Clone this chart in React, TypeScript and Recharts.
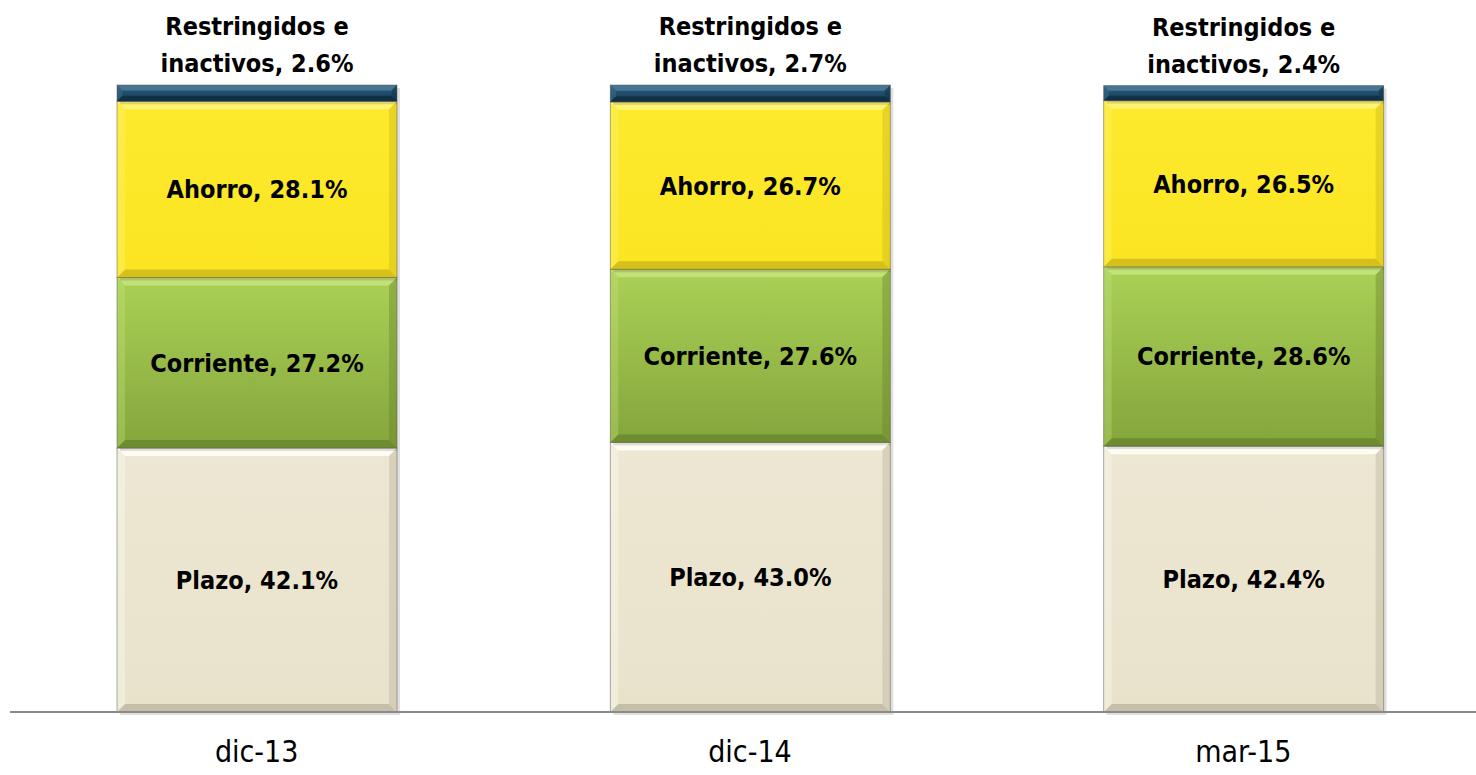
import { BarChart, Bar, XAxis, YAxis, LabelList } from "recharts";

const categories = ["dic-13", "dic-14", "mar-15"];
const plazo = [42.1, 43.0, 42.4];
const corriente = [27.2, 27.6, 28.6];
const ahorro = [28.1, 26.7, 26.5];
const restringidos = [2.6, 2.7, 2.4];

const chartData = categories.map((cat, i) => ({
  cat,
  plazo: plazo[i],
  corriente: corriente[i],
  ahorro: ahorro[i],
  restringidos: restringidos[i],
}));

const FONT = '"Liberation Sans Narrow", "Arial Narrow", "DejaVu Sans Condensed", "Liberation Sans", sans-serif';

type Palette = { id: string; top: string; bottom: string; light: string; dark: string };

const palettes: Record<string, Palette> = {
  plazo: { id: "gPlazo", top: "#ede7d3", bottom: "#e9e2cb", light: "#fffef6", dark: "#b8b29c" },
  corriente: { id: "gCorr", top: "#abd156", bottom: "#84a53c", light: "#c4e27a", dark: "#66832b" },
  ahorro: { id: "gAhorro", top: "#fdea2e", bottom: "#fbe522", light: "#fff47a", dark: "#c9b418" },
  restringidos: { id: "gRest", top: "#2a5c7c", bottom: "#173f5a", light: "#4a7a98", dark: "#0d2a3e" },
};

function BevelBar(props: any) {
  const { x, y, width, height, pal } = props;
  if (!width || !height || height <= 0) return null;
  const b = Math.min(8, height / 3);
  return (
    <g>
      <rect x={x + 3} y={y + 3} width={width} height={height} fill="rgba(0,0,0,0.12)" />
      <rect x={x} y={y} width={width} height={height} fill={`url(#${pal.id})`} />
      <polygon
        points={`${x},${y} ${x + width},${y} ${x + width - b},${y + b} ${x + b},${y + b}`}
        fill={pal.light}
        opacity={0.9}
      />
      <polygon
        points={`${x},${y + height} ${x + width},${y + height} ${x + width - b},${y + height - b} ${x + b},${y + height - b}`}
        fill={pal.dark}
        opacity={0.75}
      />
      <polygon
        points={`${x},${y} ${x + b},${y + b} ${x + b},${y + height - b} ${x},${y + height}`}
        fill={pal.light}
        opacity={0.35}
      />
      <polygon
        points={`${x + width},${y} ${x + width - b},${y + b} ${x + width - b},${y + height - b} ${x + width},${y + height}`}
        fill={pal.dark}
        opacity={0.4}
      />
      <rect x={x} y={y} width={width} height={height} fill="none" stroke="rgba(90,90,80,0.5)" strokeWidth={1} />
    </g>
  );
}

function makeInnerLabel(name: string) {
  return (props: any) => {
    const { x, y, width, height, value } = props;
    return (
      <text
        x={x + width / 2}
        y={y + height / 2}
        dy="0.36em"
        textAnchor="middle"
        fontFamily={FONT}
        fontWeight="bold"
        fontSize={25}
        fill="#000"
      >
        {`${name}, ${Number(value).toFixed(1)}%`}
      </text>
    );
  };
}

function TopLabel(props: any) {
  const { x, y, width, value } = props;
  const cx = x + width / 2;
  return (
    <text textAnchor="middle" fontFamily={FONT} fontWeight="bold" fontSize={25} fill="#000">
      <tspan x={cx} y={y - 50}>Restringidos e</tspan>
      <tspan x={cx} y={y - 13}>{`inactivos, ${Number(value).toFixed(1)}%`}</tspan>
    </text>
  );
}

export default function App() {
  return (
    <div style={{ position: "absolute", left: 0, top: 0, width: 1476, height: 775, overflow: "hidden", background: "#fff" }}>
      <BarChart
        width={1490}
        height={775}
        data={chartData}
        margin={{ top: 85, right: 0, left: 10, bottom: 0 }}
        barCategoryGap={0}
      >
        <defs>
          {Object.values(palettes).map((p) => (
            <linearGradient key={p.id} id={p.id} x1="0" y1="0" x2="0" y2="1">
              <stop offset="0%" stopColor={p.top} />
              <stop offset="100%" stopColor={p.bottom} />
            </linearGradient>
          ))}
        </defs>
        <XAxis
          dataKey="cat"
          height={63}
          axisLine={{ stroke: "#8a8a8a", strokeWidth: 2 }}
          tickLine={false}
          tickSize={0}
          tickMargin={29}
          tick={{ fill: "#000", fontSize: 30, fontFamily: FONT }}
        />
        <YAxis hide domain={[0, 100]} />
        <Bar
          dataKey="plazo"
          stackId="a"
          barSize={280}
          isAnimationActive={false}
          shape={(p: any) => <BevelBar {...p} pal={palettes.plazo} />}
        >
          <LabelList dataKey="plazo" content={makeInnerLabel("Plazo")} />
        </Bar>
        <Bar
          dataKey="corriente"
          stackId="a"
          barSize={280}
          isAnimationActive={false}
          shape={(p: any) => <BevelBar {...p} pal={palettes.corriente} />}
        >
          <LabelList dataKey="corriente" content={makeInnerLabel("Corriente")} />
        </Bar>
        <Bar
          dataKey="ahorro"
          stackId="a"
          barSize={280}
          isAnimationActive={false}
          shape={(p: any) => <BevelBar {...p} pal={palettes.ahorro} />}
        >
          <LabelList dataKey="ahorro" content={makeInnerLabel("Ahorro")} />
        </Bar>
        <Bar
          dataKey="restringidos"
          stackId="a"
          barSize={280}
          isAnimationActive={false}
          shape={(p: any) => <BevelBar {...p} pal={palettes.restringidos} />}
        >
          <LabelList dataKey="restringidos" content={TopLabel} />
        </Bar>
      </BarChart>
    </div>
  );
}
